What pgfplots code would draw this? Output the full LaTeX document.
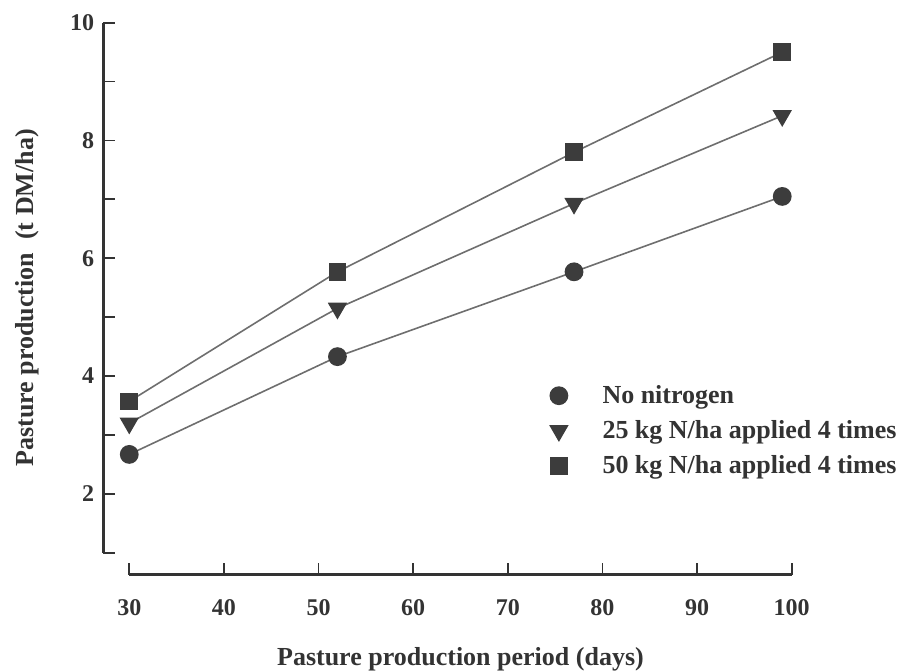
\documentclass[border=0pt]{standalone}
\usepackage{fontspec}
\setmainfont{Liberation Serif}
\usepackage{pgfplots}
\pgfplotsset{compat=1.18}
\definecolor{markc}{HTML}{3C3C3C}
\definecolor{linec}{HTML}{6E6E6E}
\definecolor{axisc}{HTML}{333333}
\begin{document}
\begin{tikzpicture}
\begin{axis}[
  x=4.7315pt, y=29.45pt,
  xmin=30, xmax=100, ymin=1, ymax=10,
  axis x line*=bottom, axis y line*=left,
  axis x line shift=11pt, axis y line shift=13pt,
  axis line style={axisc, line width=1.4pt},
  xtick={30,40,...,100},
  ytick={2,4,6,8,10},
  minor ytick={1,3,5,7,9},
  tick align=inside,
  major tick length=6pt, minor tick length=6pt,
  tick style={axisc, line width=0.9pt},
  /pgf/number format/assume math mode=true,
  tick label style={font=\fontsize{12}{14}\selectfont\bfseries, text=axisc},
  xticklabel style={yshift=-9pt},
  yticklabel style={xshift=-1pt},
  xlabel={Pasture production period (days)},
  ylabel={Pasture production\enspace(t DM/ha)},
  every axis x label/.style={at={(axis description cs:0.5,0)}, anchor=center, yshift=-53.5pt,
    font=\fontsize{13}{15}\selectfont\bfseries, text=axisc},
  every axis y label/.style={at={(axis description cs:0,0.5)}, anchor=center, xshift=-51pt, yshift=-5pt, rotate=90,
    font=\fontsize{13}{15}\selectfont\bfseries, text=axisc},
  clip=false,
  legend style={at={(axis cs:74.45,3.92)}, anchor=north west, draw=none, fill=none,
    inner sep=0pt, font=\fontsize{13}{15}\selectfont\bfseries, text=axisc,
    row sep=3pt, column sep=15.5pt, cells={anchor=west}},
  legend image code/.code={\draw[#1,only marks] plot coordinates {(0pt,0pt)};},
  legend cell align=left,
]
\addplot[linec, line width=0.8pt, mark=*, mark size=4.3pt, mark options={fill=markc, draw=markc}]
  coordinates {(30,2.67) (52,4.33) (77,5.77) (99,7.05)};
\addlegendentry{No nitrogen}
\addplot[linec, line width=0.8pt, mark=triangle*, mark size=4.8pt, mark options={rotate=180, fill=markc, draw=markc}]
  coordinates {(30,3.2) (52,5.15) (77,6.93) (99,8.42)};
\addlegendentry{25 kg N/ha applied 4 times}
\addplot[linec, line width=0.8pt, mark=square*, mark size=4pt, mark options={fill=markc, draw=markc}]
  coordinates {(30,3.57) (52,5.77) (77,7.8) (99,9.5)};
\addlegendentry{50 kg N/ha applied 4 times}
\coordinate (bbll) at (axis cs:16.34,-1.024);
\coordinate (bbur) at (axis cs:112.29,10.385);
\end{axis}
\pgfresetboundingbox
\path[use as bounding box] (bbll) rectangle (bbur);
\end{tikzpicture}
\end{document}
